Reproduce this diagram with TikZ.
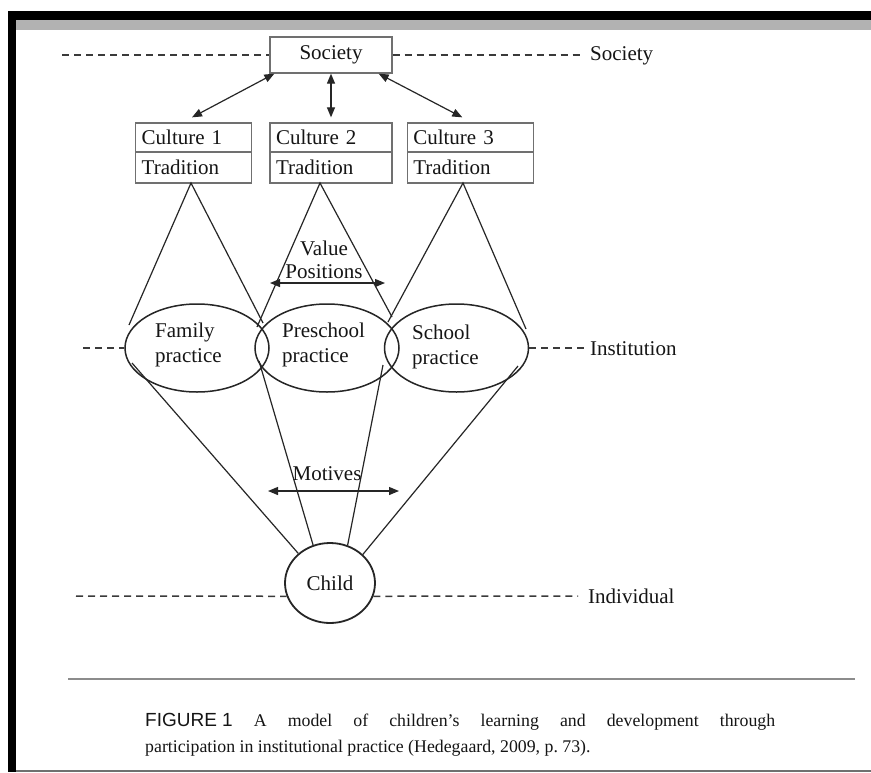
\documentclass[tikz,border=0pt]{standalone}
\usepackage{fontspec}
\setmainfont{Liberation Serif}
\newfontfamily\capsans{Liberation Sans}
\usetikzlibrary{arrows.meta,calc,shapes.geometric}
\definecolor{txt}{HTML}{151515}
\definecolor{ln}{HTML}{262626}
\definecolor{boxgray}{HTML}{707070}
\definecolor{dashgray}{HTML}{3A3A3A}
\definecolor{bandgray}{HTML}{B2B2B2}
\definecolor{sepgray}{HTML}{8C8C8C}
\begin{document}
\begin{tikzpicture}[x=1pt,y=-1pt,
  every node/.style={font=\fontsize{21}{25}\selectfont, text=txt, inner sep=0pt},
  conn/.style={draw=ln, line width=1.2pt},
  dbl/.style={{Triangle[length=10pt,width=8pt]}-{Triangle[length=10pt,width=8pt]}},
  lvl/.style={draw=dashgray, line width=1.5pt, dash pattern=on 7pt off 5pt},
  cell/.style={draw=boxgray, line width=1.3pt, inner xsep=6pt, inner ysep=0pt, align=left},
  ell/.style={draw=ln, ellipse, line width=1.5pt, minimum width=144pt, minimum height=88pt, inner sep=0pt},
  lbl/.style={anchor=base west}
]
\useasboundingbox[fill=white] (0,0) rectangle (871,772);
% frame
\fill[black] (8,11) rectangle (871,20);
\fill[bandgray] (16,20) rectangle (871,30);
\fill[black] (8,11) rectangle (16,772);
\fill[sepgray!80!black] (16,769.5) rectangle (871,772);

% society
\node[draw=boxgray, line width=1.3pt, minimum width=122pt, minimum height=36pt] (soc) at (331,55) {Society};

% cultures
\node[cell, minimum width=116pt, text width=104pt, minimum height=29pt] (c1a) at (193.7,137.5) {Culture 1};
\node[cell, minimum width=116pt, text width=104pt, minimum height=31pt] (c1b) at (193.7,167.5) {Tradition};
\node[cell, minimum width=122pt, text width=110pt, minimum height=29pt] (c2a) at (331,137.5) {Culture 2};
\node[cell, minimum width=122pt, text width=110pt, minimum height=31pt] (c2b) at (331,167.5) {Tradition};
\node[cell, minimum width=126pt, text width=114pt, minimum height=29pt] (c3a) at (470.3,137.5) {Culture 3};
\node[cell, minimum width=126pt, text width=114pt, minimum height=31pt] (c3b) at (470.3,167.5) {Tradition};

% society arrows
\draw[conn, dbl] ([xshift=5pt]soc.south west) -- ([yshift=5pt,xshift=-1.7pt]c1a.north);
\draw[conn, dbl] (soc.south) -- ([yshift=5pt]c2a.north);
\draw[conn, dbl] ([xshift=-14pt]soc.south east) -- ([yshift=5pt,xshift=-8pt]c3a.north);

% practices
\node[ell] (fam) at (197,348) {};
\node[ell] (pre) at (327,348) {};
\node[ell] (sch) at (456.5,348) {};
\node[anchor=west, align=left] (famt) at (155,345) {Family\\practice};
\node[anchor=west, align=left] (pret) at (282,345) {Preschool\\practice};
\node[anchor=west, align=left] (scht) at (412,347) {School\\practice};

% apexes and triangle ends
\coordinate (a1) at (191,183);
\coordinate (a2) at (320,183);
\coordinate (a3) at (463,183);
\coordinate (e1L) at (129,325);
\coordinate (e1R) at (263,323);
\coordinate (e2L) at (257,327);
\coordinate (e2R) at (392,317);
\coordinate (e3L) at (388,322);
\coordinate (e3R) at (526,329);
\draw[conn] (e1L) -- (a1) -- (e1R);
\draw[conn] (e2L) -- (a2) -- (e2R);
\draw[conn] (e3L) -- (a3) -- (e3R);

% value positions
\node[align=center, font=\fontsize{21}{23}\selectfont] (vp) at (324,259.5) {Value\\Positions};
\coordinate (vpL) at (270,283);
\coordinate (vpR) at (385,283);
\draw[conn, dbl] (vpL) -- (vpR);

% child
\node[draw=ln, ellipse, line width=1.8pt, minimum width=90pt, minimum height=80pt] (child) at (330,583) {Child};
\coordinate (f1) at (132,363);
\coordinate (f2) at (259,361);
\coordinate (f3) at (383,365);
\coordinate (f4) at (518,366);
\draw[conn] (f1) -- (child.137);
\draw[conn] (f2) -- (child.114);
\draw[conn] (f3) -- (child.65);
\draw[conn] (f4) -- (child.41);

% motives
\node (mot) at (327,474) {Motives};
\coordinate (mL) at (268,491);
\coordinate (mR) at (399,491);
\draw[conn, dbl] (mL) -- (mR);

% levels
\coordinate (s0) at (62,55);
\coordinate (s1) at (582,55);
\draw[lvl] (s0) -- (soc.west);
\draw[lvl] (soc.east) -- (s1);
\node[lbl] (socl) at (590,60) {Society};

\coordinate (i0) at (83,348);
\coordinate (i1) at (585,348);
\draw[lvl] (i0) -- (fam.west);
\draw[lvl] (sch.east) -- (i1);
\node[lbl] (insl) at (590,355) {Institution};

\coordinate (d0) at (76,596);
\coordinate (d1) at (578,596);
\draw[lvl] (d0) -- (child.197);
\draw[lvl] (child.-17) -- (d1);
\node[lbl] (indl) at (588,603) {Individual};

% caption
\coordinate (sepL) at (68,679);
\coordinate (sepR) at (855,679);
\draw[sepgray, line width=2pt] (sepL) -- (sepR);
\node[lbl, font=\fontsize{17.8}{26}\selectfont] (cap1) at (145,726) {\makebox[630pt][s]{\mbox{\capsans\fontsize{19}{26}\selectfont FIGURE 1} A model of children's learning and development through}};
\node[lbl, font=\fontsize{17.8}{26}\selectfont] (cap2) at (145,752) {participation in institutional practice (Hedegaard, 2009, p.~73).};
\end{tikzpicture}
\end{document}
